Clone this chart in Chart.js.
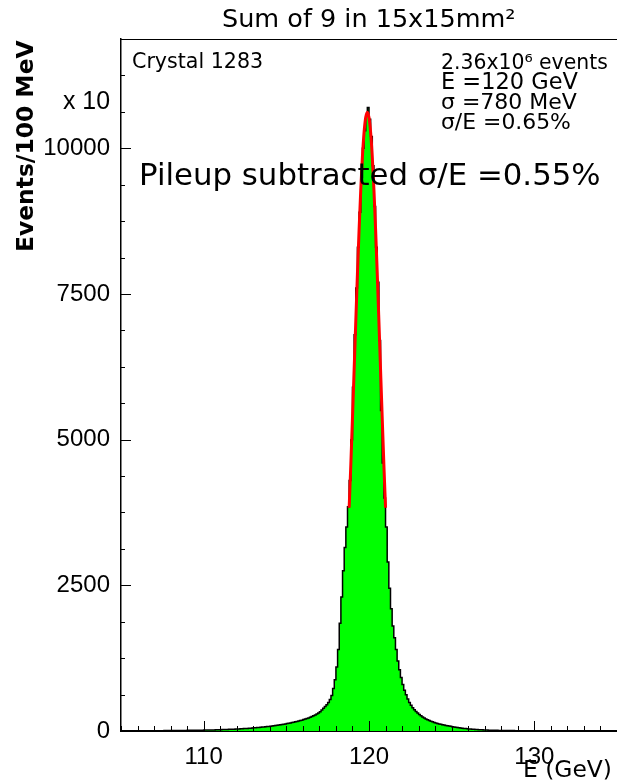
<!DOCTYPE html>
<html lang="en">
<head>
<meta charset="UTF-8">
<script src="https://cdn.jsdelivr.net/npm/chart.js"></script>
<title>Sum of 9 in 15x15mm2</title>
<style>body{margin:0;background:#fff}</style>
</head>
<body>
<canvas id="chart" width="617" height="784"></canvas>
<script>
// histogram: 100 MeV bins starting at 105 GeV, heights (x10 events / 100 MeV)
const binLow = 105.0;
const binWidth = 0.1;
const counts = [
  3, 3, 3, 3, 3, 3, 3, 3, 4, 4,                                    // 105
  4, 4, 4, 4, 4, 5, 5, 5, 5, 5,                                    // 106
  5, 6, 6, 6, 6, 6, 7, 7, 7, 7,                                    // 107
  8, 8, 8, 8, 9, 9, 9, 10, 10, 10,                                 // 108
  11, 11, 12, 12, 13, 13, 14, 14, 15, 15,                          // 109
  16, 16, 17, 17, 18, 19, 19, 20, 21, 22,                          // 110
  23, 24, 25, 26, 27, 28, 29, 30, 32, 33,                          // 111
  35, 36, 38, 39, 41, 43, 45, 47, 49, 51,                          // 112
  54, 56, 59, 61, 64, 67, 70, 73, 76, 79,                          // 113
  83, 86, 90, 94, 98, 102, 107, 112, 117, 122,                     // 114
  127, 133, 139, 145, 151, 158, 165, 172, 179, 186,                // 115
  196, 205, 215, 225, 236, 248, 261, 275, 290, 310,                // 116
  330, 360, 390, 420, 450, 490, 540, 610, 730, 880,                // 117
  1100, 1400, 1850, 2300, 2750, 3150, 3500, 3850, 4300, 5000,      // 118
  5900, 6800, 7600, 8300, 8900, 9500, 10000, 10300, 10550, 10700,  // 119
  10500, 10200, 9700, 9000, 8300, 7700, 6700, 5500, 4600, 4000,    // 120
  3500, 2900, 2450, 2100, 1800, 1600, 1400, 1200, 1050, 920,       // 121
  800, 700, 620, 550, 490, 440, 400, 365, 335, 310,                // 122
  285, 262, 242, 224, 208, 193, 180, 168, 157, 147,                // 123
  138, 130, 122, 115, 108, 102, 96, 90, 85, 80,                    // 124
  75, 70, 65, 60, 56, 52, 48, 45, 42, 39,                          // 125
  36, 33, 31, 29, 27, 25, 23, 21, 20, 18,                          // 126
  17, 16, 15, 14, 13, 12, 11, 11, 10, 10,                          // 127
  9, 9, 8, 8, 8, 7, 7, 7, 6, 6,                                    // 128
  6, 6, 6, 5, 5, 5, 5, 5, 5, 4,                                    // 129
  4, 4, 4, 4, 4, 4, 4, 4, 4, 4,                                    // 130
  4, 4, 3, 3, 3, 3, 3, 3, 3, 3,                                    // 131
  3, 3, 3, 3, 3, 3, 3, 3, 3, 3,                                    // 132
  3, 3, 3, 2, 2, 2, 2, 2, 2, 2,                                    // 133
  2, 2, 2, 2, 2, 2, 2, 2, 2, 2                                     // 134
];

// red fit curve
const fitE = [118.8, 118.9, 119.0, 119.1, 119.2, 119.3, 119.4, 119.5, 119.6, 119.7, 119.8, 119.9,
              120.0, 120.1, 120.2, 120.3, 120.4, 120.5, 120.6, 120.7, 120.8, 120.9, 121.0];
const fitCounts = [3830, 4570, 5365, 6190, 7025, 7840, 8600, 9280, 9845, 10270, 10530, 10620,
                   10530, 10270, 9845, 9280, 8600, 7840, 7025, 6190, 5365, 4570, 3830];

const xTicks = [110, 120, 130];
const yTicks = [0, 2500, 5000, 7500, 10000];
const xMin = 105, xMax = 135;
const yMin = 0, yMax = 11875;

const histPoints = counts.map((c, i) => ({ x: +(binLow + i * binWidth).toFixed(1), y: c }));
histPoints.push({ x: +(binLow + counts.length * binWidth).toFixed(1), y: counts[counts.length - 1] });
const fitPoints = fitE.map((e, i) => ({ x: e, y: fitCounts[i] }));

// squeeze a text into a given width
function fitText(ctx, text, x, y, w, weight, family) {
  ctx.font = weight + ' 100px ' + family;
  const size = 100 * w / ctx.measureText(text).width;
  ctx.font = weight + ' ' + size.toFixed(1) + 'px ' + family;
  ctx.fillText(text, x, y);
}

// ROOT style frame: ticks inside, top line, labels
const rootFrame = {
  id: 'rootFrame',
  afterDraw(chart) {
    const { ctx, chartArea: a, scales: { x, y } } = chart;
    ctx.save();
    ctx.strokeStyle = '#000';
    ctx.lineWidth = 1;
    ctx.beginPath();
    ctx.moveTo(a.left, a.top + 0.5);
    ctx.lineTo(a.right, a.top + 0.5);
    for (let v = yMin; v <= yMax; v += 625) {
      const py = Math.round(y.getPixelForValue(v)) + 0.5;
      ctx.moveTo(a.left, py);
      ctx.lineTo(a.left + (v % 2500 === 0 ? 10 : 4), py);
    }
    for (let v = xMin; v <= xMax; v++) {
      const px = Math.round(x.getPixelForValue(v)) + 0.5;
      ctx.moveTo(px, a.bottom);
      ctx.lineTo(px, a.bottom - (v % 10 === 0 ? 10 : 5));
    }
    ctx.stroke();

    ctx.fillStyle = '#000';
    ctx.textAlign = 'left';
    ctx.textBaseline = 'alphabetic';
    const geo = '"DejaVu Sans"';
    fitText(ctx, 'Sum of 9 in 15x15mm\u00b2', 222, 27, 293, 'normal', geo);
    fitText(ctx, 'Crystal 1283', 132, 68, 131, 'normal', geo);
    fitText(ctx, '2.36x10\u2076 events', 441, 69, 167, 'normal', geo);
    fitText(ctx, 'E =120 GeV', 441, 89, 137, 'normal', geo);
    fitText(ctx, '\u03c3 =780 MeV', 441, 109, 136, 'normal', geo);
    fitText(ctx, '\u03c3/E =0.65%', 441, 129, 130, 'normal', geo);
    fitText(ctx, 'Pileup subtracted \u03c3/E =0.55%', 139, 185, 461, 'normal', geo);
    fitText(ctx, 'x 10', 63, 109, 47, 'normal', '"Liberation Sans"');
    fitText(ctx, 'E (GeV)', 523, 777, 89, 'normal', geo);

    ctx.translate(33, 252);
    ctx.rotate(-Math.PI / 2);
    fitText(ctx, 'Events/100 MeV', 0, 0, 212, 'bold', '"DejaVu Sans"');
    ctx.restore();
  }
};

new Chart(document.getElementById('chart'), {
  type: 'line',
  data: {
    datasets: [{
      label: 'fit',
      data: fitPoints,
      borderColor: '#ff0000',
      borderWidth: 3,
      pointRadius: 0,
      tension: 0.4,
      cubicInterpolationMode: 'monotone',
      fill: false
    }, {
      label: 'Sum of 9',
      data: histPoints,
      stepped: 'before',
      borderColor: '#000',
      borderWidth: 1.5,
      backgroundColor: '#00ff00',
      pointRadius: 0,
      fill: 'origin'
    }]
  },
  options: {
    responsive: false,
    animation: false,
    layout: { padding: { top: 39, right: 0, left: 0, bottom: 0 } },
    plugins: { legend: { display: false }, tooltip: { enabled: false }, title: { display: false } },
    scales: {
      x: {
        type: 'linear',
        min: xMin,
        max: xMax,
        afterBuildTicks: s => { s.ticks = xTicks.map(v => ({ value: v })); },
        afterFit: s => { s.height = 53; },
        grid: { drawOnChartArea: false, drawTicks: false },
        border: { color: '#000', width: 2 },
        ticks: { color: '#000', font: { family: 'Liberation Sans', size: 24 }, padding: 12, autoSkip: false, maxRotation: 0,
                 callback: v => String(v) }
      },
      y: {
        min: yMin,
        max: yMax,
        afterBuildTicks: s => { s.ticks = yTicks.map(v => ({ value: v })); },
        afterFit: s => { s.width = 121; },
        grid: { drawOnChartArea: false, drawTicks: false },
        border: { color: '#000', width: 1.5 },
        ticks: { color: '#000', font: { family: 'Liberation Sans', size: 24 }, padding: 11,
                 callback: v => String(v) }
      }
    }
  },
  plugins: [rootFrame]
});
</script>
</body>
</html>
